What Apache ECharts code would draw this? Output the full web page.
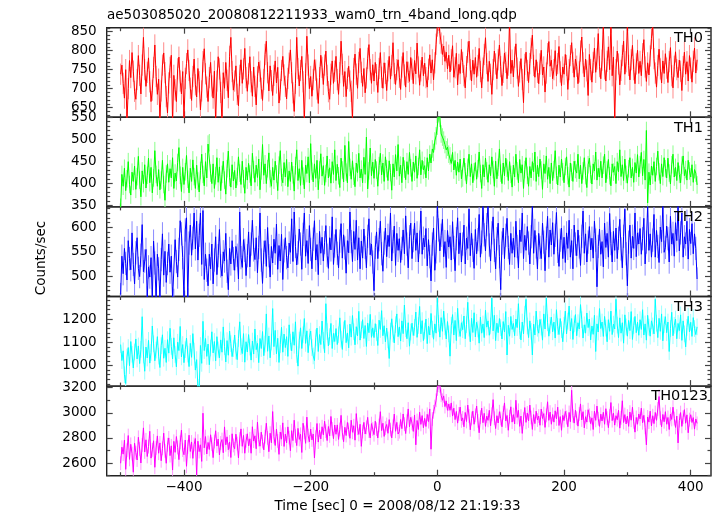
<!DOCTYPE html>
<html><head><meta charset="utf-8">
<script src="https://cdn.jsdelivr.net/npm/echarts@6/dist/echarts.min.js"></script>
<style>html,body{margin:0;padding:0;background:#fff}#c{width:718px;height:516px}</style>
</head><body><div id="c"></div>
<script>
const TITLE = 'ae503085020_20080812211933_wam0_trn_4band_long.qdp';
const X_NAME = 'Time [sec] 0 = 2008/08/12 21:19:33';
const Y_NAME = 'Counts/sec';
const BANDS = ['TH0', 'TH1', 'TH2', 'TH3', 'TH0123'];
const T_START = -500, BIN = 2;
const X_MIN = -522, X_MAX = 432;
const X_MAJOR = [-400, -200, 0, 200, 400];
const X_MINOR = [-500, -300, -100, 100, 300];
// typical 1-sigma error bar of a bin
const ERRORS = [28, 20, 24, 36, 55];

const TH0 = [
738,762,714,675,750,612,700,774,729,795,
746,693,672,724,787,735,686,762,835,750,
706,743,781,718,666,696,756,815,732,685,
725,620,694,762,794,742,679,636,715,756,
788,610,735,697,666,752,783,720,686,745,
618,727,766,802,748,701,669,732,778,710,
678,753,718,644,694,771,805,739,704,666,
729,769,707,675,746,612,720,784,752,690,
616,742,701,769,722,676,785,835,745,696,
720,760,685,655,735,776,714,752,806,729,
693,739,784,718,680,757,706,657,731,770,
746,701,669,724,790,825,742,694,760,721,
682,735,773,715,756,662,697,748,785,736,
706,673,727,767,802,742,689,640,714,835,
753,707,748,785,718,614,739,838,762,700,
732,680,724,776,749,699,661,729,788,756,
711,762,799,735,692,672,738,773,714,746,
785,724,685,742,825,764,706,745,679,727,
759,720,693,618,753,791,738,701,769,806,
743,706,753,689,728,780,816,750,714,763,
720,769,737,690,753,795,730,701,768,740,
695,747,785,725,761,821,740,711,750,776,
730,698,757,795,736,704,771,743,719,782,
751,713,774,739,820,757,709,747,783,734,
767,729,704,751,789,741,776,723,768,817,
865,880,845,820,790,812,772,796,752,788,
744,776,813,730,755,793,710,764,740,803,
769,734,702,758,796,825,750,720,775,738,
782,730,761,806,745,702,754,790,834,766,
719,772,738,685,750,799,765,726,776,815,
758,708,743,794,769,726,762,880,740,775,
731,783,818,754,706,744,779,724,663,764,
796,748,716,766,806,841,761,730,776,743,
713,765,801,736,757,691,741,792,824,759,
775,726,750,800,734,766,811,744,708,757,
738,790,761,698,750,787,821,769,730,778,
759,713,744,799,836,768,731,778,747,682,
790,750,717,769,807,743,778,845,758,726,
775,872,752,720,772,810,750,875,734,783,
612,750,799,765,710,748,787,825,738,771,
870,761,723,776,814,750,713,765,801,740,
772,734,792,829,757,719,768,736,786,832,
868,779,741,704,761,804,752,715,773,740,
792,754,716,771,808,734,702,759,797,750,
729,775,746,695,758,796,738,771,720,787,
754,717,772,807,741,776];

const TH1 = [
345,420,393,434,383,410,449,397,373,425,
404,439,386,415,461,407,369,428,399,442,
389,418,457,401,436,378,412,474,420,393,
431,385,407,452,397,361,421,444,402,433,
412,458,388,423,405,447,481,418,381,436,
397,426,463,409,378,434,404,453,415,388,
441,405,380,429,466,420,394,449,412,489,
492,423,399,444,388,417,458,402,437,383,
420,450,407,375,433,473,413,391,442,405,
429,389,415,460,423,397,450,410,377,436,
407,445,421,394,468,431,402,441,413,455,
385,428,488,418,444,399,433,469,410,393,
436,407,450,421,383,441,474,413,401,447,
414,454,392,428,404,448,419,382,440,476,
406,433,395,452,416,387,441,422,460,401,
490,427,403,444,411,452,385,430,467,416,
440,395,422,462,412,435,400,449,420,476,
406,443,417,390,457,430,403,486,425,401,
495,436,409,451,416,392,446,424,468,412,
432,401,459,420,505,387,428,480,417,448,
411,454,430,393,440,468,419,446,404,460,
433,406,451,424,384,444,414,465,428,488,
416,441,401,459,432,408,449,420,470,435,
404,448,425,462,411,438,476,419,452,430,
440,412,458,428,466,446,478,470,496,508,
530,560,548,512,505,498,488,476,482,466,
462,445,470,430,452,418,448,425,455,410,
412,457,426,398,436,466,415,444,401,426,
447,409,433,471,422,388,442,414,457,428,
402,442,417,460,431,393,450,410,436,478,
423,399,446,417,457,434,406,449,420,391,
441,414,466,428,401,454,423,442,388,431,
458,418,393,438,412,449,426,471,404,441,
415,455,430,386,444,422,462,409,436,399,
446,406,431,474,418,396,441,414,455,426,
401,438,460,417,391,446,425,404,450,431,
423,466,410,441,399,428,458,417,390,442,
457,420,398,444,428,471,407,434,414,450,
412,441,466,401,430,454,417,394,444,425,
438,399,449,426,476,415,442,406,455,420,
400,433,458,412,436,402,447,423,465,414,
442,470,417,454,407,520,355,425,396,439,
418,449,404,438,473,426,399,444,415,458,
433,412,457,423,398,442,466,414,436,406,
447,420,401,441,462,417,431,407,452,428,
414,442,402,431,423,396];

const TH2 = [
462,541,505,557,526,492,573,536,513,589,
524,484,548,579,516,499,543,606,509,531,
555,455,519,498,538,452,572,527,450,545,
515,455,534,587,502,551,487,526,566,508,
541,453,450,575,530,498,555,614,587,538,
454,595,620,451,568,605,543,578,630,556,
613,533,584,630,524,635,493,545,512,480,
545,515,566,484,533,581,503,542,596,521,
500,550,531,588,510,472,557,525,573,536,
512,561,543,494,632,538,518,575,553,501,
542,591,519,566,615,554,534,579,507,559,
630,533,485,549,573,520,600,542,498,561,
527,576,547,607,514,563,531,586,493,552,
579,538,517,568,549,618,530,632,561,523,
548,597,566,514,586,630,541,573,526,604,
555,515,576,614,533,565,503,592,547,580,
531,569,604,543,516,579,554,622,524,562,
596,547,517,572,608,537,585,558,506,573,
548,632,571,530,592,555,615,533,579,515,
572,537,597,559,517,582,618,544,566,529,
470,559,591,536,575,613,546,510,568,599,
540,584,561,630,531,571,603,522,588,553,
577,528,557,595,546,624,566,517,581,609,
536,573,609,553,589,529,570,634,545,578,
560,598,521,575,540,490,566,599,512,550,
645,595,552,584,617,540,571,518,594,560,
581,533,612,559,511,577,620,546,589,529,
566,605,525,578,557,638,542,588,553,516,
596,546,575,627,539,570,645,585,552,606,
645,564,531,589,622,553,515,577,609,540,
472,568,599,536,584,619,559,524,588,547,
578,539,613,561,517,595,571,630,536,584,
553,602,568,525,581,645,547,594,560,515,
588,559,536,609,570,511,578,623,539,595,
564,610,545,584,631,551,520,574,599,536,
580,528,589,557,615,539,573,515,605,566,
542,595,560,522,582,634,547,587,529,570,
602,554,578,537,613,574,478,561,597,545,
571,519,609,559,588,539,629,567,529,592,
553,599,536,578,617,556,517,582,638,546,
480,570,605,537,582,557,630,540,589,566,
598,545,577,619,525,570,645,553,587,539,
574,627,539,594,561,528,601,571,645,549,
559,603,577,529,623,566,588,541,610,573,
645,552,589,630,539,581,566,613,535,596,
567,608,546,587,557,494];

const TH3 = [
1090,1021,1063,960,922,1036,1077,999,1103,1048,
989,1058,1114,1028,1084,1008,1069,1210,1045,975,
1079,1032,1108,1010,1056,1170,1093,1020,1066,1124,
1040,991,1085,1132,1031,1074,1013,1111,1053,1160,
1082,1028,1119,1047,994,1100,1064,1168,1037,1090,
1012,1068,1118,1049,995,1095,1035,1137,1062,980,
1025,905,895,1086,1009,1190,1064,1116,1039,1092,
1003,1075,1145,1054,1103,1020,1124,1067,1033,1110,
1057,1166,1081,1015,1107,1044,1148,1094,1038,1073,
1131,1062,1025,1116,1188,1081,1051,1137,1014,1102,
1058,1133,1079,1023,1105,1049,1157,1068,1095,1012,
1116,1073,1146,1042,1092,1222,1061,1127,1033,1101,
1245,1081,1151,1050,1117,1013,1090,1164,1057,1135,
1077,1124,1039,1175,1100,1063,1145,1087,1188,1047,
997,1109,1162,1073,1132,1202,1095,1149,1055,1122,
1148,1077,1041,1021,1119,1161,1060,1133,1090,1191,
1108,1055,1266,1146,1084,1124,1181,1073,1138,1103,
1159,1090,1132,1205,1113,1069,1153,1194,1098,1140,
1076,1178,1122,1215,1145,1089,1167,1127,1233,1109,
1154,1197,1116,1172,1082,1183,1141,1220,1121,1162,
1120,1180,1142,1086,1195,1155,1236,1128,1171,1102,
1161,1110,1030,1148,1201,1136,1097,1176,1222,1124,
1166,1105,1192,1137,1260,1158,1115,1184,1083,1144,
1182,1129,1164,1230,1121,1172,1254,1136,1193,1107,
1148,1200,1094,1169,1131,1224,1156,1113,1179,1139,
1290,1181,1122,1206,1147,1234,1166,1114,1189,1136,
1040,1173,1219,1131,1194,1107,1246,1159,1125,1184,
1154,1213,1115,1176,1272,1161,1102,1203,1142,1227,
1123,1186,1157,1096,1208,1139,1179,1120,1238,1165,
1192,1130,1170,1290,1149,1216,1107,1182,1141,1202,
1163,1114,1189,1144,1232,1045,1173,1126,1211,1155,
1181,1128,1200,1163,1266,1150,1110,1187,1136,1221,
1285,1170,1120,1192,1147,1045,1178,1131,1234,1160,
1139,1198,1165,1109,1222,1157,1290,1184,1126,1173,
1208,1145,1187,1118,1240,1168,1133,1202,1154,1102,
1173,1234,1136,1191,1256,1149,1202,1112,1179,1219,
1128,1184,1157,1262,1197,1118,1175,1139,1226,1163,
1200,1110,1170,1134,1216,1060,1179,1144,1245,1159,
1187,1125,1211,1161,1102,1197,1147,1234,1133,1178,
1157,1285,1174,1120,1205,1139,1184,1096,1218,1166,
1126,1194,1150,1232,1112,1171,1211,1141,1186,1130,
1197,1155,1240,1131,1179,1109,1216,1165,1126,1192,
1170,1136,1285,1182,1120,1203,1147,1222,1106,1176,
1210,1141,1187,1060,1159,1229,1128,1173,1200,1115,
1181,1150,1218,1108,1192,1136,1080,1164,1212,1144,
1186,1125,1206,1159,1133,1166];

const TH0123 = [
2598,2726,2671,2782,2550,2702,2819,2629,2749,2675,
2527,2758,2683,2624,2805,2712,2600,2744,2880,2688,
2785,2652,2731,2853,2639,2705,2777,2566,2720,2816,
2678,2760,2618,2717,2838,2697,2598,2746,2800,2659,
2737,2544,2773,2685,2811,2724,2627,2765,2862,2703,
2666,2783,2574,2729,2822,2692,2768,2637,2748,2795,
2505,2774,2691,2745,2613,2997,2721,2811,2672,2764,
2708,2825,2750,2643,2771,2857,2735,2791,2664,2760,
2787,2682,2888,2745,2809,2706,2768,2644,2833,2740,
2714,2830,2755,2641,2791,2872,2733,2820,2678,2777,
2833,2737,2793,2678,2889,2775,2817,2714,2926,2787,
2734,2846,2771,2705,2810,2917,2800,2690,2838,2761,
3010,2810,2740,2870,2776,2669,2847,2790,2920,2732,
2830,2761,2888,2803,2698,2858,2779,2941,2815,2739,
2876,2788,2829,2684,2917,2844,2757,2966,2818,2769,
2871,2784,2831,2640,2806,2915,2767,2862,2792,2889,
2825,2933,2854,2779,2891,2816,2971,2872,2794,2903,
2829,2904,2788,2867,2980,2841,2770,2885,2819,2923,
2867,2797,2941,2845,2897,2782,2994,2877,2828,2909,
2733,2851,2924,2831,2884,2964,2855,2800,2914,2870,
2826,2933,2870,2800,2899,3009,2858,2917,2812,2878,
2907,2837,2946,2866,2800,2892,2990,2853,2924,2831,
2850,2947,2874,2991,2910,2835,2934,3031,2889,2964,
2917,2852,2983,2745,2939,2867,3005,2908,2978,2881,
2956,2891,2988,2930,3031,2710,2951,3008,3050,3100,
3190,3240,3215,3140,3100,3135,3050,3095,3020,3070,
3020,3079,2974,3037,2946,3011,2918,2991,3046,2936,
2960,2889,3003,2931,3062,2974,2865,2955,3013,2909,
2980,3054,2936,2841,2965,3037,2921,2996,2892,2974,
2940,3020,2897,2989,3105,2957,2875,2977,2919,3009,
2955,2889,3001,3079,2935,2979,2861,2970,3048,2926,
2986,2911,3100,2963,3020,2892,2974,2836,2950,3042,
2924,2999,2935,3062,2963,2868,2986,2914,3013,2943,
2974,2901,3030,2955,2994,2884,2980,3088,2940,3006,
2909,2987,2926,3016,2952,3045,2899,2970,2861,2979,
2938,3011,2962,2889,3003,2929,3180,2977,2918,3021,
2957,2894,2991,3071,2943,3009,2880,2969,2926,3025,
2980,2914,2960,2867,3013,2940,3054,2953,2892,2989,
2935,3004,2909,3033,2957,2882,2975,3082,2938,2997,
2902,2977,2945,3020,2878,2960,3096,2923,2986,2911,
2974,2892,3006,2941,3045,2928,2846,2963,2909,2991,
2952,3037,2921,2980,2884,2745,2967,2926,3013,2895,
2977,2914,3003,2940,3031,3130,2957,2889,2987,2929,
3009,2909,2963,2867,2990,2947,3045,2954,2884,2974,
2760,2938,3002,2892,2965,3025,2917,2984,2841,2946,
2985,2923,2962,2870,2951,2916];

const SERIES_VALUES = [TH0, TH1, TH2, TH3, TH0123];
const Y_RANGES = [[624.5, 860.5], [346, 550], [458, 642.5], [911, 1297], [2499, 3213]];
const Y_MAJOR = [[650, 700, 750, 800, 850], [350, 400, 450, 500, 550], [500, 550, 600], [1000, 1100, 1200], [2600, 2800, 3000, 3200]];
const Y_MINOR_STEP = [10, 10, 10, 20, 100];

const COLORS = ['#ff0000', '#00ff00', '#0000ff', '#00ffff', '#ff00ff'];
const ERR_COLORS = ['#ff8a8a', '#8aff8a', '#8a8aff', '#9affff', '#ff9aff'];

const GRID_LEFT = 106.7, GRID_W = 604.3;
const PANEL_TOPS = [27.7, 117.3, 206.9, 296.5, 386.1];
const PANEL_H = 89.6;
const FONT = 'DejaVu Sans';

const TIME = TH0.map((_, i) => T_START + i * BIN);

function minorTicks(p) {
  const [lo, hi] = Y_RANGES[p];
  const step = Y_MINOR_STEP[p];
  const out = [];
  for (let v = Math.ceil(lo / step) * step; v <= hi; v += step) {
    if (!Y_MAJOR[p].includes(v)) out.push(v);
  }
  return out;
}
const fmtMinus = v => String(v).replace('-', '\u2212');
const fmtPlain = v => String(v);
const TICK_STYLE = { color: '#444', width: 1.2 };

const grids = [], xAxes = [], yAxes = [], series = [], graphics = [];
for (let p = 0; p < 5; p++) {
  grids.push({ left: GRID_LEFT, top: PANEL_TOPS[p], width: GRID_W, height: PANEL_H,
    show: true, borderColor: '#222', borderWidth: 1.4, backgroundColor: 'transparent', containLabel: false });
  const last = p === 4;
  const xBase = { type: 'value', gridIndex: p, min: X_MIN, max: X_MAX,
    axisLine: { show: false, onZero: false }, splitLine: { show: false } };
  xAxes.push(Object.assign({}, xBase, { position: 'bottom',
    axisTick: { show: true, inside: true, length: 6, customValues: X_MAJOR, lineStyle: TICK_STYLE },
    axisLabel: { show: last, customValues: X_MAJOR, formatter: fmtMinus, margin: 5,
      fontFamily: FONT, fontSize: 13.5, color: '#000' } }));
  xAxes.push(Object.assign({}, xBase, { position: 'bottom',
    axisTick: { show: true, inside: true, length: 3.5, customValues: X_MINOR, lineStyle: TICK_STYLE },
    axisLabel: { show: false } }));
  xAxes.push(Object.assign({}, xBase, { position: 'top',
    axisTick: { show: true, inside: true, length: 6, customValues: X_MAJOR, lineStyle: TICK_STYLE },
    axisLabel: { show: false } }));
  xAxes.push(Object.assign({}, xBase, { position: 'top',
    axisTick: { show: true, inside: true, length: 3.5, customValues: X_MINOR, lineStyle: TICK_STYLE },
    axisLabel: { show: false } }));

  const yBase = { type: 'value', gridIndex: p, min: Y_RANGES[p][0], max: Y_RANGES[p][1],
    axisLine: { show: false, onZero: false }, splitLine: { show: false } };
  const minors = minorTicks(p);
  yAxes.push(Object.assign({}, yBase, { position: 'left',
    axisTick: { show: true, inside: true, length: 6, customValues: Y_MAJOR[p], lineStyle: TICK_STYLE },
    axisLabel: { show: true, customValues: Y_MAJOR[p], formatter: fmtPlain, margin: 10,
      fontFamily: FONT, fontSize: 13.5, color: '#000' } }));
  yAxes.push(Object.assign({}, yBase, { position: 'left',
    axisTick: { show: true, inside: true, length: 3.5, customValues: minors, lineStyle: TICK_STYLE },
    axisLabel: { show: false } }));
  yAxes.push(Object.assign({}, yBase, { position: 'right',
    axisTick: { show: true, inside: true, length: 6, customValues: Y_MAJOR[p], lineStyle: TICK_STYLE },
    axisLabel: { show: false } }));
  yAxes.push(Object.assign({}, yBase, { position: 'right',
    axisTick: { show: true, inside: true, length: 3.5, customValues: minors, lineStyle: TICK_STYLE },
    axisLabel: { show: false } }));

  const data = SERIES_VALUES[p].map((v, i) => [TIME[i], v]);
  const err = ERRORS[p];
  const errColor = ERR_COLORS[p];
  series.push({ type: 'custom', name: BANDS[p] + ' error', xAxisIndex: p * 4, yAxisIndex: p * 4, data,
    silent: true, clip: true, z: 1,
    renderItem: (params, api) => {
      const t = api.value(0), v = api.value(1);
      const a = api.coord([t, v - err]);
      const b = api.coord([t, v + err]);
      return { type: 'line', shape: { x1: a[0], y1: a[1], x2: b[0], y2: b[1] },
        style: { stroke: errColor, lineWidth: 1 } };
    } });
  series.push({ type: 'line', name: BANDS[p], xAxisIndex: p * 4, yAxisIndex: p * 4, data,
    showSymbol: false, silent: true, clip: true, lineStyle: { color: COLORS[p], width: 1 }, z: 2 });

  graphics.push({ type: 'text', x: last ? 708 : 703, y: PANEL_TOPS[p] + 10.5, z: 10,
    style: { text: BANDS[p], fontFamily: FONT, fontSize: 14.5, fill: '#000', textAlign: 'right', textVerticalAlign: 'middle' } });
}

graphics.push({ type: 'text', x: 107, y: 15.5,
  style: { text: TITLE, fontFamily: FONT, fontSize: 13.5, fill: '#000', textAlign: 'left', textVerticalAlign: 'middle' } });
graphics.push({ type: 'text', x: 397.5, y: 506.5,
  style: { text: X_NAME, fontFamily: FONT, fontSize: 13.5, fill: '#000', textAlign: 'center', textVerticalAlign: 'middle' } });
graphics.push({ type: 'text', x: 41, y: 258, rotation: Math.PI / 2,
  style: { text: Y_NAME, fontFamily: FONT, fontSize: 13.5, fill: '#000', textAlign: 'center', textVerticalAlign: 'middle' } });

const chart = echarts.init(document.getElementById('c'), null, { renderer: 'canvas' });
chart.setOption({
  animation: false,
  backgroundColor: '#fff',
  grid: grids, xAxis: xAxes, yAxis: yAxes, series, graphic: graphics
});
</script></body></html>
